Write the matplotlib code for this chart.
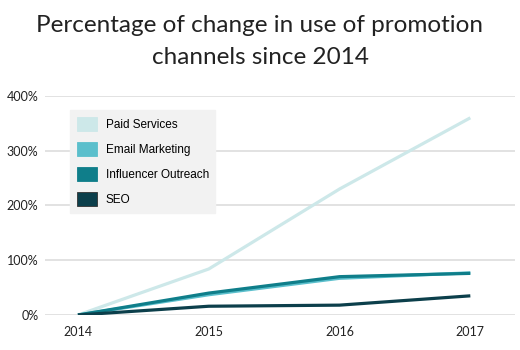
import matplotlib
matplotlib.use("Agg")
import matplotlib.pyplot as plt
from matplotlib.patches import Patch

years = [2014, 2015, 2016, 2017]
series_names = ["Paid Services", "Email Marketing", "Influencer Outreach", "SEO"]
paid = [0, 84, 230, 360]
email = [0, 37, 67, 77]
influencer = [0, 40, 70, 76]
seo = [0, 16, 18, 35]
yticks = [0, 100, 200, 300, 400]
ytick_labels = ["0%", "100%", "200%", "300%", "400%"]

colors = ["#cde8e9", "#5bbfcc", "#0f7e8a", "#0c3f4b"]
values = [paid, email, influencer, seo]

fig = plt.figure(figsize=(5.2, 3.5), dpi=100)
ax = fig.add_axes([0.087, 0.1, 0.903, 0.626])

for vals, c in zip(values, colors):
    ax.plot(years, vals, color=c, linewidth=2.3, solid_capstyle="butt", zorder=3)

ax.set_xlim(2013.75, 2017.34)
ax.set_ylim(0, 400)
ax.set_yticks(yticks)
ax.set_yticklabels(ytick_labels)
ax.set_xticks(years)
ax.set_xticklabels([str(y) for y in years])
ax.grid(axis="y", color="#dddddd", linewidth=1.2, zorder=0)
ax.grid(axis="x", visible=False)
for s in ax.spines.values():
    s.set_visible(False)
ax.tick_params(length=0, labelsize=9, colors="#222222")
ax.tick_params(axis="y", pad=5)
ax.tick_params(axis="x", pad=8)
for lbl in ax.get_xticklabels() + ax.get_yticklabels():
    lbl.set_family("Lato")

handles = [Patch(facecolor=c, edgecolor="#333333" if i == 3 else c, linewidth=0.6) for i, c in enumerate(colors)]
leg = ax.legend(handles, series_names, loc="upper left", bbox_to_anchor=(0.053, 0.935),
                frameon=True, fancybox=False, facecolor="#f2f2f2", edgecolor="#f2f2f2",
                framealpha=1, prop={"family": "Liberation Sans", "size": 8.5},
                handlelength=1.75, handleheight=1.45, labelspacing=0.95, borderpad=0.55,
                handletextpad=0.7, borderaxespad=0)
leg.set_zorder(5)

fig.text(0.5, 0.927, "Percentage of change in use of promotion", ha="center", va="center",
         fontsize=17.5, family="Lato", color="#222222")
fig.text(0.5, 0.835, "channels since 2014", ha="center", va="center",
         fontsize=17.5, family="Lato", color="#222222")

fig.savefig("out.png", dpi=100, facecolor="white")
